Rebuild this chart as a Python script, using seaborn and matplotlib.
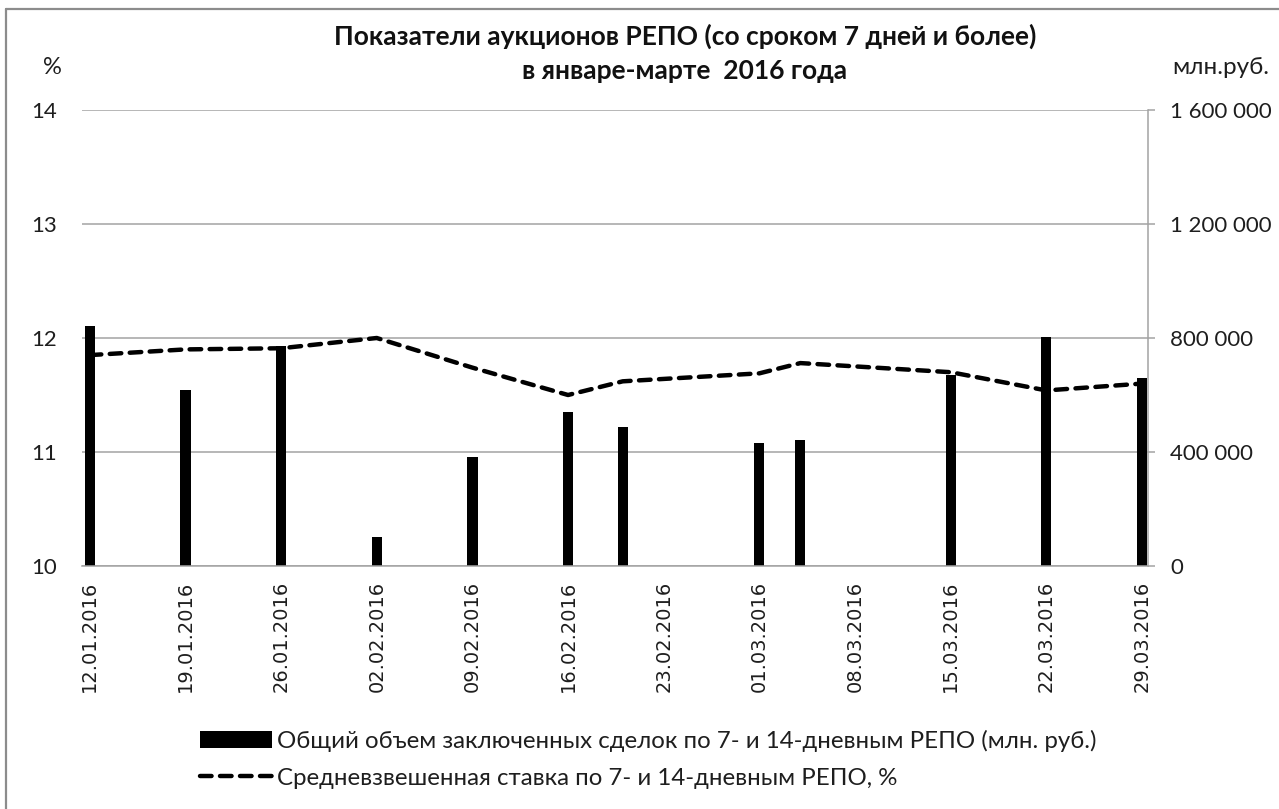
import matplotlib
matplotlib.use("Agg")
import matplotlib.pyplot as plt
import matplotlib.dates as mdates
from matplotlib.patches import Patch
from matplotlib.lines import Line2D
import seaborn as sns
import pandas as pd

# ---------------- data ----------------
dates = ["12.01.2016", "19.01.2016", "26.01.2016", "02.02.2016", "09.02.2016",
         "16.02.2016", "20.02.2016", "01.03.2016", "04.03.2016", "15.03.2016",
         "22.03.2016", "29.03.2016"]
volume_mln = [843000, 618000, 771000, 101000, 383000, 539000, 489000,
              432000, 442000, 671000, 802000, 660000]
rate_pct = [11.85, 11.90, 11.91, 12.00, 11.74, 11.50, 11.62, 11.69, 11.78,
            11.70, 11.54, 11.60]
tick_dates = ["12.01.2016", "19.01.2016", "26.01.2016", "02.02.2016", "09.02.2016",
              "16.02.2016", "23.02.2016", "01.03.2016", "08.03.2016", "15.03.2016",
              "22.03.2016", "29.03.2016"]
left_ticks = [10, 11, 12, 13, 14]
right_ticks = [0, 400000, 800000, 1200000, 1600000]

title_1 = "Показатели аукционов РЕПО (со сроком 7 дней и более)"
title_2 = "в январе-марте  2016 года"
label_bar = "Общий объем заключенных сделок по 7- и 14-дневным РЕПО (млн. руб.)"
label_line = "Средневзвешенная ставка по 7- и 14-дневным РЕПО, %"

# ---------------- style ----------------
sns.set_theme(style="white")
plt.rcParams["font.family"] = ["Lato", "DejaVu Sans"]
GRAY = "#a3a3a3"
TXT = "#1e1e1e"

W, H = 1279, 809
fig = plt.figure(figsize=(W / 100, H / 100), dpi=100)
L, R, T, B = 82, 1148, 110, 566
ax = fig.add_axes([L / W, 1 - B / H, (R - L) / W, (B - T) / H])
ax2 = ax.twinx()

x = mdates.date2num(pd.to_datetime(dates, format="%d.%m.%Y"))
df = pd.DataFrame({"x": x, "volume": volume_mln, "rate": rate_pct})
tick_x = mdates.date2num(pd.to_datetime(tick_dates, format="%d.%m.%Y"))

DASH = (0, (2.6, 1.9))
# bars on the right (secondary) axis
sns.barplot(data=df, x="x", y="volume", native_scale=True, color="black",
            saturation=1, width=0.25, errorbar=None, ax=ax2, zorder=2,
            linewidth=0)
# line on the left axis
sns.lineplot(data=df, x="x", y="rate", ax=ax, color="black", lw=3.2,
             linestyle=DASH, dash_capstyle="round", legend=False)

ax.set_zorder(ax2.get_zorder() + 1)
ax.patch.set_visible(False)

ax.set_xlim(x[0] - 0.57, x[-1] + 0.44)
ax.set_ylim(10, 14)
ax2.set_ylim(0, 1600000)
ax.set_yticks(left_ticks)
ax.set_yticklabels([str(v) for v in left_ticks])
ax2.set_yticks(right_ticks)
ax2.set_yticklabels([f"{v:,}".replace(",", " ") for v in right_ticks])
ax.set_xticks(tick_x)
ax.set_xticklabels(tick_dates, rotation=90, family="DejaVu Sans", fontsize=14,
                   color=TXT)

for a in (ax, ax2):
    a.set_xlabel("")
    a.set_ylabel("")
    for s in a.spines.values():
        s.set_visible(False)
ax.grid(False)
ax2.grid(True, axis="y", color=GRAY, lw=1.1)
ax2.set_axisbelow(True)
for side in ("right", "bottom"):
    ax2.spines[side].set_visible(True)
    ax2.spines[side].set_color(GRAY)
    ax2.spines[side].set_linewidth(1.1)

ax.tick_params(axis="y", length=0, pad=18, labelsize=16, labelcolor=TXT)
ax.tick_params(axis="x", length=0, pad=10.5)
ax2.tick_params(axis="y", right=True, length=5, width=1.1, color=GRAY,
                pad=11, labelsize=16, labelcolor=TXT)

# headings
fig.text(685 / W, 1 - 36 / H, title_1, ha="center", va="center",
         fontsize=19, fontweight="bold", color="#111111")
fig.text(685 / W, 1 - 71 / H, title_2, ha="center", va="center",
         fontsize=19, fontweight="bold", color="#111111")
fig.text(52 / W, 1 - 68 / H, "%", ha="center", va="center", fontsize=17,
         color=TXT)
fig.text(1221 / W, 1 - 67 / H, "млн.руб.", ha="center", va="center",
         fontsize=17.5, color=TXT)

# legend
handles = [Patch(facecolor="black", edgecolor="black", linewidth=0),
           Line2D([], [], color="black", lw=3.2, linestyle=DASH,
                  dash_capstyle="round")]
fig.legend(handles, [label_bar, label_line], loc="upper left",
           bbox_to_anchor=(200 / W, 1 - 730 / H), frameon=False, fontsize=17.3,
           handlelength=3.0, handleheight=0.72, handletextpad=0.2,
           labelspacing=0.66, borderpad=0, borderaxespad=0,
           labelcolor=TXT)

# outer frame
fig.add_artist(Line2D([6 / W, 1], [1 - 9 / H, 1 - 9 / H], color="#8c8c8c",
                      lw=1.6, transform=fig.transFigure))
fig.add_artist(Line2D([6 / W, 6 / W], [0, 1 - 9 / H], color="#8c8c8c",
                      lw=1.6, transform=fig.transFigure))

fig.savefig("out.png", dpi=100)
